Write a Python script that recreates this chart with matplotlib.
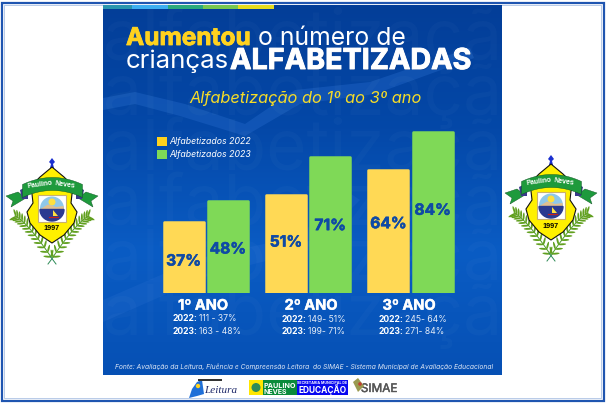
import numpy as np
import matplotlib
matplotlib.use('Agg')
import matplotlib.pyplot as plt
import matplotlib.patheffects as pe
from matplotlib.patches import Polygon, Circle, Rectangle, Ellipse
from matplotlib.colors import LinearSegmentedColormap

# valores do grafico
anos = ['1º ANO', '2º ANO', '3º ANO']
alfabetizados_2022 = [37, 51, 64]
alfabetizados_2023 = [48, 71, 84]
label_y_2022 = [16.5, 26.4, 36]
label_y_2023 = [22.8, 35, 43]
detalhe_2022 = ['111 - 37%', '149- 51%', '245- 64%']
detalhe_2023 = ['163 - 48%', '199- 71%', '271- 84%']
legenda = ['Alfabetizados 2022', 'Alfabetizados 2023']

AMARELO = '#FFD955'
VERDE = '#7FD957'
AZUL_TXT = '#0F4AA5'
FONTE = 'Inter'

plt.rcParams['font.family'] = [FONTE, 'DejaVu Sans']


def grosso(c, lw=0.5):
    # engrossa o texto, a fonte do cartaz e mais pesada
    return [pe.withStroke(linewidth=lw, foreground=c)]


fig = plt.figure(figsize=(6.06, 4.03), dpi=100, facecolor='white')

# fundo em coordenadas de pixel
bg = fig.add_axes([0, 0, 1, 1])
bg.set_xlim(0, 606)
bg.set_ylim(403, 0)
bg.axis('off')

# moldura
bg.add_patch(Rectangle((2, 2.5), 601.5, 398, fill=False, ec='#1F55B0', lw=1.6))
bg.add_patch(Rectangle((4.2, 4.6), 597, 393.6, fill=False, ec='#9DB6DE', lw=0.5))

# cartaz
cmap = LinearSegmentedColormap.from_list('fundo', ['#033E98', '#0448A8', '#0A5CC4', '#0650B4'])
grad = np.linspace(0, 1, 200).reshape(-1, 1)
bg.imshow(grad, extent=(103, 502, 375, 5), cmap=cmap, aspect='auto', zorder=1)
bg.set_xlim(0, 606)
bg.set_ylim(403, 0)

# seta e marca d'agua
bg.add_patch(Polygon([(103, 98), (135, 92), (185, 104), (245, 124), (295, 90), (370, 82), (470, 48),
                      (474, 58), (375, 94), (300, 104), (245, 136), (180, 116), (135, 104), (103, 110)],
                     fc='#2A6FD0', alpha=0.35, ec='none', zorder=2))
bg.add_patch(Polygon([(103, 300), (200, 258), (300, 236), (345, 190), (360, 200), (310, 250),
                      (210, 275), (103, 322)], fc='#2A6FD0', alpha=0.25, ec='none', zorder=2))
for y in [40, 95, 150, 205, 260, 315]:
    bg.text(103, y, 'alfabetização', color='white', alpha=0.022, fontsize=50, ha='left', va='center',
            clip_on=True, zorder=2)

# faixa no topo
for x0, x1, c in [(103, 132, '#2A96AE'), (132, 168, '#3DAEF0'), (168, 203, '#2BAA7C'),
                  (203, 238, '#78C850'), (238, 274, '#E6DC1E')]:
    bg.add_patch(Rectangle((x0, 5), x1 - x0, 4, fc=c, ec='none', zorder=3))

# titulo
bg.text(126, 38.5, 'Aumentou', color='#FFD21E', fontsize=17.6, fontweight='bold', va='center', zorder=4,
        path_effects=grosso('#FFD21E', 0.6))
bg.text(258, 38.5, 'o número de', color='white', fontsize=17.8, va='center', zorder=4)
bg.text(126, 61.5, 'crianças', color='white', fontsize=18.6, va='center', zorder=4)
bg.text(231, 62.5, 'ALFABETIZADAS', color='#0A2F70', alpha=0.5, fontsize=20.7, fontweight='bold', va='center', zorder=4)
bg.text(230, 61.5, 'ALFABETIZADAS', color='white', fontsize=20.7, fontweight='bold', va='center', zorder=4,
        path_effects=grosso('white', 0.7))
bg.text(306, 99, 'Alfabetização do 1º ao 3º ano', color='#F5DC28', fontsize=11.8, style='italic',
        ha='center', va='center', zorder=4)

# legenda
for y, c, s in zip([141.5, 154.5], ['#FFD21E', VERDE], legenda):
    bg.add_patch(Rectangle((157, y - 4.5), 10, 9, fc=c, ec='none', zorder=4))
    bg.text(169, y, s, color='white', fontsize=6.3, style='italic', va='center', zorder=4)

# barras
ax = fig.add_axes([150 / 606, 1 - 292.7 / 403, 320 / 606, 191.7 / 403], zorder=5)
ax.patch.set_alpha(0)
ax.axis('off')
ax.set_xlim(-0.544, 2.581)
ax.set_ylim(0, 100)
x = np.arange(len(anos))
w = 0.39
bar_kw = dict(width=w, linewidth=1.8, joinstyle='round')
ax.bar(x - 0.216, alfabetizados_2022, color=AMARELO, edgecolor=AMARELO, **bar_kw)
ax.bar(x + 0.216, alfabetizados_2023, color=VERDE, edgecolor=VERDE, **bar_kw)
for i in range(len(anos)):
    ax.text(x[i] - 0.216, label_y_2022[i], f'{alfabetizados_2022[i]}%', color=AZUL_TXT, fontsize=11.2,
            fontweight='bold', ha='center', va='center', path_effects=grosso(AZUL_TXT, 0.4))
    ax.text(x[i] + 0.216, label_y_2023[i], f'{alfabetizados_2023[i]}%', color=AZUL_TXT, fontsize=11.2,
            fontweight='bold', ha='center', va='center', path_effects=grosso(AZUL_TXT, 0.4))

# texto abaixo das barras
cx_ano = [203, 311, 409]
x_b = [(173, 199), (281.7, 307.7), (378.7, 404.7)]
y_lin = [(318.7, 331), (319.7, 332), (319.7, 332)]
for i, a in enumerate(anos):
    bg.text(cx_ano[i], 305.7, a, color='white', fontsize=10.5, fontweight='bold', ha='center', va='center', zorder=4,
            path_effects=grosso('white', 0.3))
    bg.text(x_b[i][0], y_lin[i][0], '2022:', color='white', fontsize=6.2, fontweight='bold', va='center', zorder=4)
    bg.text(x_b[i][1], y_lin[i][0], detalhe_2022[i], color='#E4ECF8', fontsize=6.2, va='center', zorder=4)
    bg.text(x_b[i][0], y_lin[i][1], '2023:', color='white', fontsize=6.2, fontweight='bold', va='center', zorder=4)
    bg.text(x_b[i][1], y_lin[i][1], detalhe_2023[i], color='#E4ECF8', fontsize=6.2, va='center', zorder=4)

bg.text(304, 366.5, 'Fonte: Avaliação da Leitura, Fluência e Compreensão Leitora  do SIMAE - Sistema Municipal de Avaliação Educacional',
        color='#DCE6F5', fontsize=4.8, style='italic', ha='center', va='center', zorder=4)


# brasao
def brasao(dx, dy):
    # pluma azul
    bg.add_patch(Polygon([(52 + dx, 158 + dy), (55 + dx, 162 + dy), (53 + dx, 164 + dy), (54 + dx, 168 + dy),
                          (50 + dx, 168 + dy), (51 + dx, 164 + dy), (49 + dx, 162 + dy)], fc='#1A2FD0', ec='none', zorder=6))
    esc = [(52, 167), (40, 177), (29, 188), (32, 194), (33, 203), (27, 212), (30, 223), (40, 235), (52, 243)]
    pts = esc + [(104 - a, b) for a, b in esc[-2::-1]]
    bg.add_patch(Polygon([(a + dx, b + dy) for a, b in pts], fc='#FFF000', ec='#111111', lw=0.8, zorder=6))
    # fita
    for s in (1, -1):
        m = lambda a: (52 + s * (a - 52)) + dx
        bg.add_patch(Polygon([(m(6), 196 + dy), (m(18), 192 + dy), (m(26), 198 + dy), (m(11), 207 + dy),
                              (m(13), 201 + dy)], fc='#1E9A3C', ec='#0B4F20', lw=0.3, zorder=6))
        bg.add_patch(Polygon([(m(20), 190 + dy), (m(28), 186 + dy), (m(28), 199 + dy), (m(22), 199 + dy)], fc='#3A3A8C', ec='none', zorder=6))
    t = np.linspace(-1, 1, 30)
    xs = 52 + 30 * t + dx
    top = 177 + 7 * t ** 2 + dy
    bot = 190 + 7 * t ** 2 + dy
    bg.fill_between(xs, top, bot, color='#1E9A3C', ec='#0B4F20', lw=0.3, zorder=7)
    bg.text(39.5 + dx, 184.5 + dy, 'Paulino', color='white', fontsize=5, fontweight='bold', family='Liberation Sans',
            rotation=8, ha='center', va='center', zorder=8)
    bg.text(64.5 + dx, 184.5 + dy, 'Neves', color='white', fontsize=5, fontweight='bold', family='Liberation Sans',
            rotation=-8, ha='center', va='center', zorder=8)
    # quadro e circulo
    bg.add_patch(Rectangle((38 + dx, 195 + dy), 28, 27, fc='white', ec='#C9B070', lw=0.8, zorder=7))
    bg.add_patch(Circle((52 + dx, 208.5 + dy), 12, fc='#8FC8EA', ec='none', zorder=8))
    bg.add_patch(Circle((52 + dx, 202 + dy), 3.5, fc='#FFE040', ec='none', zorder=8))
    bg.add_patch(Polygon([(40.5 + dx, 209 + dy), (48 + dx, 204.5 + dy), (56 + dx, 207 + dy), (63.5 + dx, 206 + dy),
                          (64 + dx, 211 + dy), (40 + dx, 211 + dy)], fc='#E0C090', ec='none', zorder=9))
    tc = np.linspace(0, np.pi, 30)
    bg.fill(52 + dx + 12 * np.cos(tc), 209.5 + dy + 11.5 * np.sin(tc), color='#2A3A90', zorder=9)
    bg.add_patch(Polygon([(53 + dx, 210 + dy), (53 + dx, 216 + dy), (58 + dx, 216 + dy)], fc='#FFE040', ec='none', zorder=10))
    bg.plot([49 + dx, 58 + dx], [217 + dy, 217 + dy], color='#C02020', lw=0.9, zorder=10)
    bg.text(52 + dx, 229 + dy, '1997', color='black', fontsize=5.2, fontweight='bold', family='Liberation Sans',
            ha='center', va='center', zorder=8)
    # ramos
    for s in (1, -1):
        u = np.linspace(0, 1, 15)
        rx = 15 + 36 * u ** 1.3
        ry = 216 + 41 * u ** 1.7
        rx = 52 + s * (rx - 52) + dx
        ry = ry + dy
        bg.plot(rx, ry, color='#4C9A2A', lw=0.7, zorder=5)
        for i in range(1, len(u)):
            ang = np.degrees(np.arctan2(ry[i] - ry[i - 1], rx[i] - rx[i - 1]))
            for d in (50, -50):
                a = np.radians(ang + d)
                bg.add_patch(Ellipse((rx[i] - 3.6 * np.cos(a), ry[i] - 3.6 * np.sin(a)), 8, 1.9, angle=ang + d,
                                     fc='#62A020', ec='none', zorder=5))
        bg.plot([52 + dx - s * 4, 52 + dx + s * 2], [264 + dy, 256 + dy], color='#2E8B57', lw=0.7, zorder=5)


brasao(0, 0)
brasao(499, -3)

# logos do rodape
bg.add_patch(Polygon([(189, 398), (192, 389), (197, 382), (202, 380), (204, 394), (197, 396)], fc='#1E6FD8', ec='none', zorder=4))
bg.add_patch(Circle((198, 386), 2.2, fc='#FFD21E', ec='none', zorder=5))
bg.text(204, 390.5, 'Leitura', color='#1F2A6A', fontsize=8, style='italic', ha='left', va='center', zorder=6, family='Liberation Serif')
bg.add_patch(Rectangle((198, 378.5), 24, 2.5, fc='#333333', ec='none', zorder=4))
bg.add_patch(Rectangle((249, 380), 14, 15, fc='#FFE600', ec='none', zorder=4))
bg.add_patch(Circle((256, 387.5), 4.5, fc='#2E8B57', ec='none', zorder=5))
bg.add_patch(Rectangle((263, 380), 34, 15, fc='#0A8A3A', ec='none', zorder=4))
bg.add_patch(Rectangle((297, 380), 51, 15, fc='#0707F0', ec='none', zorder=4))
bg.text(280, 385.5, 'PAULINO', color='white', fontsize=5.2, fontweight='bold', ha='center', va='center', zorder=5)
bg.text(275, 391.5, 'NEVES', color='white', fontsize=5, fontweight='bold', ha='center', va='center', zorder=5)
bg.text(322.5, 389.5, 'EDUCAÇÃO', color='white', fontsize=6, fontweight='bold', ha='center', va='center', zorder=5)
bg.text(322.5, 382.5, 'SECRETARIA MUNICIPAL DE', color='white', fontsize=2.6, fontweight='bold', ha='center', va='center', zorder=5)
bg.text(379, 389, 'SIMAE', color='#555555', fontsize=8.5, ha='center', va='center', zorder=4, path_effects=grosso('#555555', 0.3))
bg.add_patch(Polygon([(353, 382), (358, 378), (364, 386), (358, 392)], fc='#9A9A50', ec='none', zorder=4))
bg.add_patch(Circle((360, 384), 1.8, fc='#C04030', ec='none', zorder=5))

fig.savefig('out.png', dpi=100)
